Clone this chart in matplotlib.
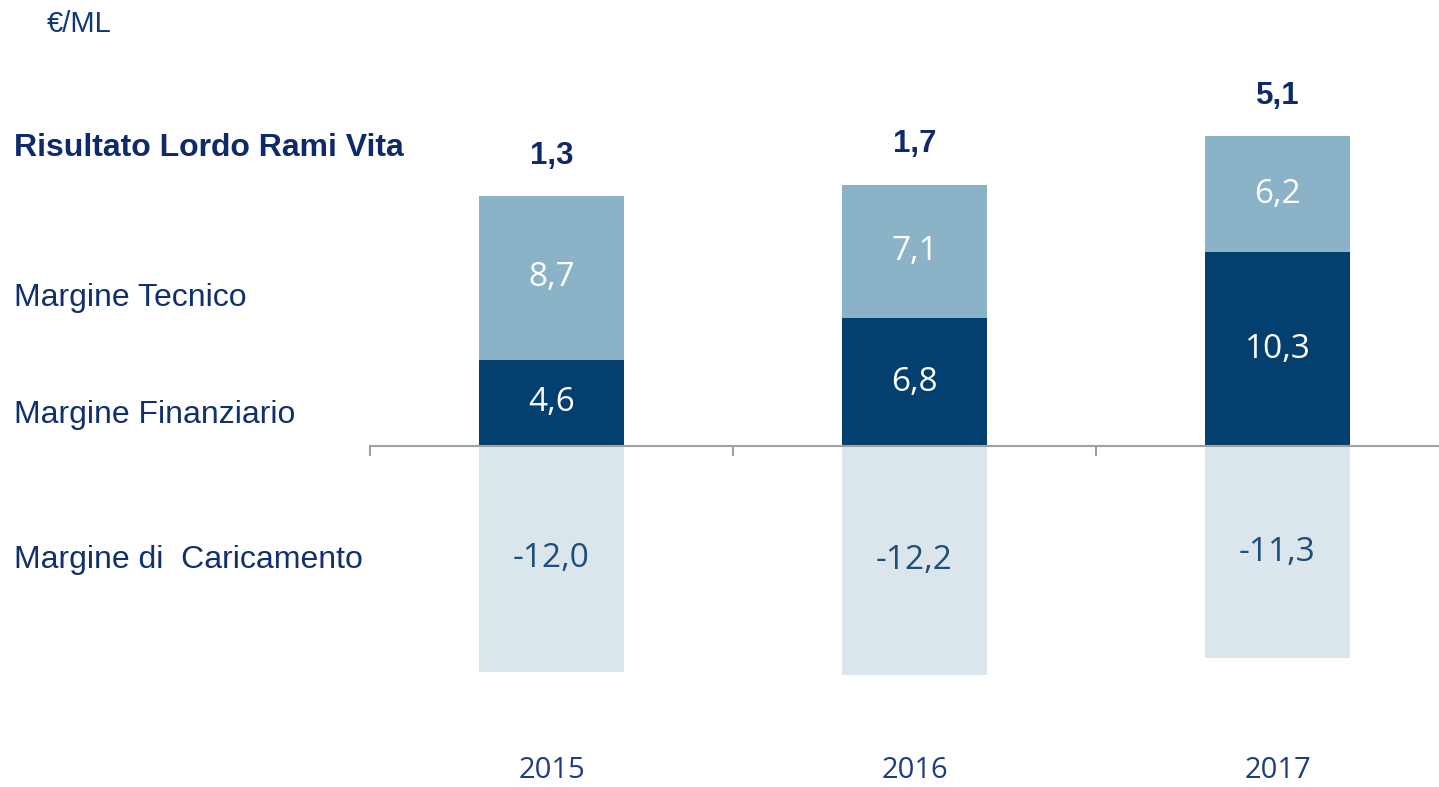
import matplotlib
matplotlib.use('Agg')
import matplotlib.pyplot as plt
import matplotlib.transforms as mtransforms
import numpy as np

years = ['2015', '2016', '2017']
fin = [4.6, 6.8, 10.3]        # Margine Finanziario
tec = [8.7, 7.1, 6.2]         # Margine Tecnico
car = [-12.0, -12.2, -11.3]   # Margine di Caricamento
tot = [1.3, 1.7, 5.1]         # Risultato Lordo Rami Vita

c_dark = '#03406F'
c_light = '#8BB3C8'
c_pale = '#DAE5EC'
c_navy = '#0E2A6B'
c_label = '#10306E'


def fmt(v):
    return f'{v:.1f}'.replace('.', ',')


W, H = 1439, 787
fig = plt.figure(figsize=(W / 100, H / 100), dpi=100)
ax = fig.add_axes([370 / W, 0, 1 - 370 / W, 1])
ppu = 18.8  # пикселей на единицу

x = np.arange(len(years))
bw = 0.4
ax.bar(x, fin, bw, color=c_dark)
ax.bar(x, tec, bw, bottom=fin, color=c_light)
ax.bar(x, car, bw, color=c_pale)

vfont = dict(family=['Open Sans', 'DejaVu Sans'], fontsize=24)
for i in range(len(years)):
    ax.text(x[i], fin[i] / 2, fmt(fin[i]), ha='center', va='center', color='white', **vfont)
    ax.text(x[i], fin[i] + tec[i] / 2, fmt(tec[i]), ha='center', va='center', color='white', **vfont)
    ax.text(x[i], car[i] / 2, fmt(car[i]), ha='center', va='center', color='#1F4E79', **vfont)
    ax.annotate(fmt(tot[i]), (x[i], fin[i] + tec[i]), xytext=(0, 29), textcoords='offset points',
                ha='center', va='center', color=c_navy, fontsize=22.5, fontweight='bold',
                family=['Liberation Sans', 'DejaVu Sans'])

# годы внизу
trans = mtransforms.blended_transform_factory(ax.transData, ax.transAxes)
for i, y in enumerate(years):
    ax.text(x[i], (H - 771) / H, y, transform=trans, ha='center', va='center',
            color='#1F3C80', fontsize=21, family=['Open Sans', 'DejaVu Sans'])

for s in ['top', 'right', 'left']:
    ax.spines[s].set_visible(False)
ax.spines['bottom'].set_position(('data', 0))
ax.spines['bottom'].set_color('#A0A0A0')
ax.spines['bottom'].set_linewidth(1.5)
ax.set_xticks([-0.5, 0.5, 1.5, 2.5])
ax.tick_params(axis='x', direction='out', length=7.5, width=1.5, color='#A0A0A0', labelbottom=False)
ax.set_yticks([])
ax.set_ylim(-(H - 446) / ppu, 446 / ppu)
ax.set_xlim(-0.5, -0.5 + (W - 370) / 363)
ax.patch.set_alpha(0)

lfont = dict(family=['Liberation Sans', 'DejaVu Sans'])
fig.text(47 / W, 1 - 24 / H, '€/ML', color='#0E3A7A', fontsize=21, va='center', **lfont)
fig.text(14 / W, 1 - 148 / H, 'Risultato Lordo Rami Vita', color=c_navy, fontsize=23,
         fontweight='bold', va='center', **lfont)
fig.text(14 / W, 1 - 298 / H, 'Margine Tecnico', color=c_label, fontsize=23, va='center', **lfont)
fig.text(14 / W, 1 - 415 / H, 'Margine Finanziario', color=c_label, fontsize=23, va='center', **lfont)
fig.text(14 / W, 1 - 560 / H, 'Margine di  Caricamento', color=c_label, fontsize=23, va='center', **lfont)

fig.savefig('out.png', dpi=100)
